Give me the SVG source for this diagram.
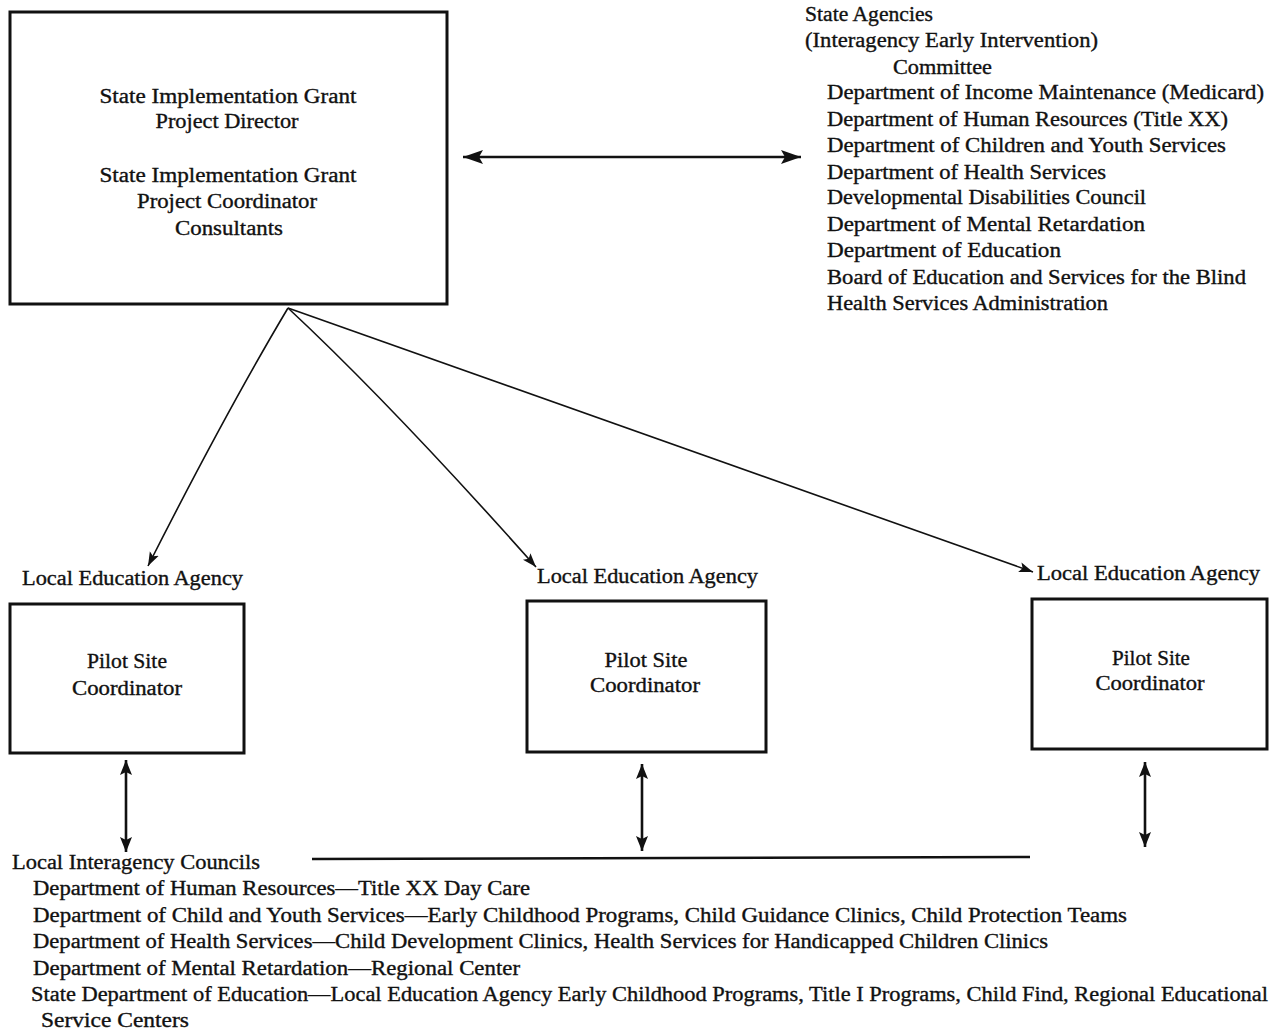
<svg xmlns="http://www.w3.org/2000/svg" width="1277" height="1033" viewBox="0 0 1277 1033">
<style>
text{font-family:"Liberation Serif","Times New Roman",serif;fill:#111;font-size:20.5px;stroke:#111;stroke-width:0.35}
.c{text-anchor:middle}
.box{fill:none;stroke:#111;stroke-width:3}
.thin{fill:none;stroke:#111;stroke-width:1.6}
.thick{fill:none;stroke:#111;stroke-width:2.6}
</style>
<defs>
<marker id="ah" markerUnits="userSpaceOnUse" markerWidth="16" markerHeight="12" refX="14" refY="6" orient="auto-start-reverse">
<path d="M0,1 L14,6 L0,11 L3,6 Z" fill="#111"/>
</marker>
<marker id="ahb" markerUnits="userSpaceOnUse" markerWidth="22" markerHeight="14" refX="20" refY="7" orient="auto-start-reverse">
<path d="M0,0 L20,7 L0,14 L4,7 Z" fill="#111"/>
</marker>
<marker id="ahv" markerUnits="userSpaceOnUse" markerWidth="16" markerHeight="12" refX="15" refY="6" orient="auto-start-reverse">
<path d="M0,0 L15,6 L0,12 L3,6 Z" fill="#111"/>
</marker>
</defs>

<g id="state-grant">
<rect class="box" x="10" y="12" width="437" height="292"/>
<text class="c" x="228" y="103" textLength="257" lengthAdjust="spacingAndGlyphs">State Implementation Grant</text>
<text class="c" x="227" y="128" textLength="143" lengthAdjust="spacingAndGlyphs">Project Director</text>
<text class="c" x="228" y="182" textLength="257" lengthAdjust="spacingAndGlyphs">State Implementation Grant</text>
<text class="c" x="227" y="208" textLength="180" lengthAdjust="spacingAndGlyphs">Project Coordinator</text>
<text class="c" x="229" y="235" textLength="108" lengthAdjust="spacingAndGlyphs">Consultants</text>
</g>

<g id="state-agencies">
<text x="805" y="21" textLength="128" lengthAdjust="spacingAndGlyphs">State Agencies</text>
<text x="805" y="47" textLength="293" lengthAdjust="spacingAndGlyphs">(Interagency Early Intervention)</text>
<text x="893" y="74" textLength="99" lengthAdjust="spacingAndGlyphs">Committee</text>
<text x="827" y="99" textLength="437" lengthAdjust="spacingAndGlyphs">Department of Income Maintenance (Medicard)</text>
<text x="827" y="126" textLength="401" lengthAdjust="spacingAndGlyphs">Department of Human Resources (Title XX)</text>
<text x="827" y="152" textLength="399" lengthAdjust="spacingAndGlyphs">Department of Children and Youth Services</text>
<text x="827" y="179" textLength="279" lengthAdjust="spacingAndGlyphs">Department of Health Services</text>
<text x="827" y="204" textLength="319" lengthAdjust="spacingAndGlyphs">Developmental Disabilities Council</text>
<text x="827" y="231" textLength="318" lengthAdjust="spacingAndGlyphs">Department of Mental Retardation</text>
<text x="827" y="257" textLength="234" lengthAdjust="spacingAndGlyphs">Department of Education</text>
<text x="827" y="284" textLength="419" lengthAdjust="spacingAndGlyphs">Board of Education and Services for the Blind</text>
<text x="827" y="310" textLength="281" lengthAdjust="spacingAndGlyphs">Health Services Administration</text>
</g>

<g id="lea-1">
<text x="22" y="585" textLength="221" lengthAdjust="spacingAndGlyphs">Local Education Agency</text>
<rect class="box" x="10" y="604" width="234" height="149"/>
<text class="c" x="127" y="668" textLength="80" lengthAdjust="spacingAndGlyphs">Pilot Site</text>
<text class="c" x="127" y="695" textLength="110" lengthAdjust="spacingAndGlyphs">Coordinator</text>
</g>

<g id="lea-2">
<text x="537" y="583" textLength="221" lengthAdjust="spacingAndGlyphs">Local Education Agency</text>
<rect class="box" x="527" y="601" width="239" height="151"/>
<text class="c" x="646" y="667" textLength="83" lengthAdjust="spacingAndGlyphs">Pilot Site</text>
<text class="c" x="645" y="692" textLength="110" lengthAdjust="spacingAndGlyphs">Coordinator</text>
</g>

<g id="lea-3">
<text x="1037" y="580" textLength="223" lengthAdjust="spacingAndGlyphs">Local Education Agency</text>
<rect class="box" x="1032" y="599" width="235" height="150"/>
<text class="c" x="1151" y="665" textLength="78" lengthAdjust="spacingAndGlyphs">Pilot Site</text>
<text class="c" x="1150" y="690" textLength="109" lengthAdjust="spacingAndGlyphs">Coordinator</text>
</g>

<g id="local-councils">
<text x="12" y="869" textLength="248" lengthAdjust="spacingAndGlyphs">Local Interagency Councils</text>
<text x="33" y="895" textLength="497" lengthAdjust="spacingAndGlyphs">Department of Human Resources—Title XX Day Care</text>
<text x="33" y="922" textLength="1094" lengthAdjust="spacingAndGlyphs">Department of Child and Youth Services—Early Childhood Programs, Child Guidance Clinics, Child Protection Teams</text>
<text x="33" y="948" textLength="1015" lengthAdjust="spacingAndGlyphs">Department of Health Services—Child Development Clinics, Health Services for Handicapped Children Clinics</text>
<text x="33" y="975" textLength="487" lengthAdjust="spacingAndGlyphs">Department of Mental Retardation—Regional Center</text>
<text x="31" y="1001" textLength="1237" lengthAdjust="spacingAndGlyphs">State Department of Education—Local Education Agency Early Childhood Programs, Title I Programs, Child Find, Regional Educational</text>
<text x="41" y="1027" textLength="148" lengthAdjust="spacingAndGlyphs">Service Centers</text>
</g>

<g id="connectors">
<line class="thick" x1="463" y1="157" x2="801" y2="157" marker-start="url(#ahb)" marker-end="url(#ahb)"/>
<path class="thin" d="M288,308 Q226,412 148,566" marker-end="url(#ah)"/>
<path class="thin" d="M288,308 Q392,405 536,567" marker-end="url(#ah)"/>
<path class="thin" d="M288,308 L1033,572" marker-end="url(#ah)"/>
<line class="thick" x1="126" y1="760" x2="126" y2="852" marker-start="url(#ahv)" marker-end="url(#ahv)"/>
<line class="thick" x1="642" y1="764" x2="642" y2="851" marker-start="url(#ahv)" marker-end="url(#ahv)"/>
<line class="thick" x1="1145" y1="762" x2="1145" y2="847" marker-start="url(#ahv)" marker-end="url(#ahv)"/>
<line class="thick" x1="312" y1="859" x2="1030" y2="857"/>
</g>
</svg>
